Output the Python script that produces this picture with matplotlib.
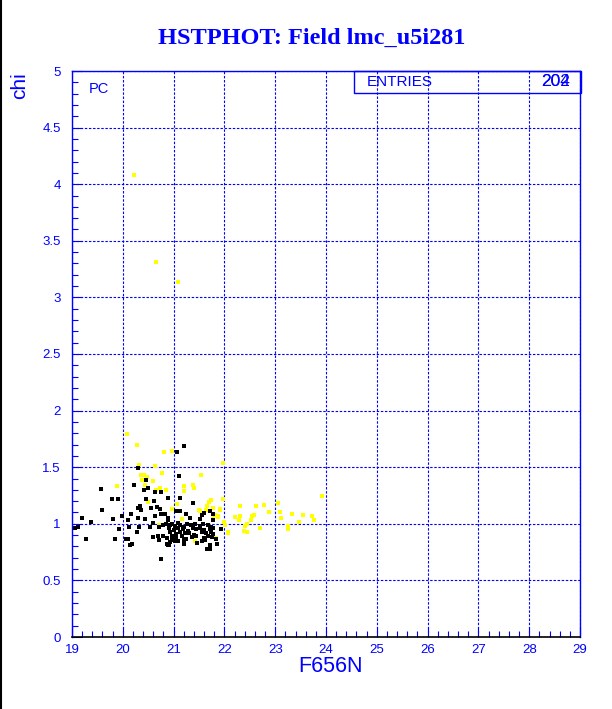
import matplotlib
matplotlib.use('Agg')
import matplotlib.pyplot as plt
from matplotlib.patches import Rectangle
from matplotlib.lines import Line2D
from matplotlib.ticker import MultipleLocator

# chi vs F656N magnitude, two star samples
yellow_mag = [20.22, 20.65, 21.09,
              20.085, 20.27, 20.32, 20.63, 20.81, 20.97, 20.78, 20.35, 20.42, 20.48, 20.37,
              20.59, 19.89, 20.44, 20.74, 20.65, 20.86, 20.50, 21.21, 21.21, 21.38, 21.41,
              21.54, 21.97, 21.97, 21.73, 21.69, 21.66, 21.78, 21.91, 21.50, 21.64, 21.06,
              20.97, 21.81, 21.88, 20.63, 21.16, 21.42, 21.84, 21.99, 22.07, 22.21, 22.31,
              22.31, 22.28, 22.44, 22.41, 22.39, 22.44, 22.54, 22.52, 22.59, 22.62, 22.78,
              22.70, 22.87, 23.06, 23.10, 23.12, 23.25, 23.25, 23.34, 23.46, 23.54, 23.73,
              23.76, 23.93, 20.71, 21.03, 21.51, 21.92, 21.88, 21.78, 22.02, 22.07]
yellow_chi = [4.08, 3.31, 3.14,
              1.79, 1.70, 1.52, 1.515, 1.63, 1.646, 1.446, 1.43, 1.43, 1.41, 1.39,
              1.38, 1.336, 1.34, 1.32, 1.295, 1.30, 1.19, 1.336, 1.29, 1.34, 1.32,
              1.43, 1.536, 1.217, 1.21, 1.19, 1.16, 1.14, 1.13, 1.12, 1.12, 1.176,
              1.134, 1.077, 1.07, 1.07, 1.04, 0.845, 0.878, 1.02, 0.93, 1.06, 1.07,
              1.16, 1.03, 1.00, 0.98, 0.94, 0.93, 1.07, 1.03, 1.08, 1.16, 1.17,
              0.96, 1.104, 1.18, 1.10, 1.05, 0.98, 0.95, 1.086, 1.015, 1.08, 1.07,
              1.03, 1.25, 0.99, 0.87, 1.11, 1.125, 1.06, 1.04, 0.99, 0.92]

black_mag = [20.30, 20.46, 20.23, 19.58, 20.50, 20.42, 20.63, 19.78, 19.90, 20.61, 20.33,
             20.29, 20.36, 20.56, 20.68, 20.74, 19.60, 20.63, 20.17, 20.11, 19.99, 19.81,
             20.30, 19.20, 19.37, 20.44, 20.71, 20.54, 20.59, 20.32, 20.13, 19.93, 19.05,
             19.11, 20.69, 20.59, 20.71, 20.18, 20.15, 20.27, 20.07, 20.11, 19.84, 19.27,
             20.75, 21.20, 21.07, 21.10, 20.76, 20.88, 21.13, 21.39, 20.75, 20.84, 20.93,
             20.89, 21.02, 20.45, 20.62,
             20.88, 20.88, 21.05, 21.13, 21.25, 21.33, 21.51, 21.55, 21.59, 21.72, 21.78,
             21.77,
             20.80, 20.86, 20.92, 20.96, 21.03, 21.08, 21.13, 21.20, 21.26, 21.34, 21.42,
             21.51, 21.58, 21.67, 21.73,
             20.90, 21.00, 21.09, 21.18, 21.29, 21.38, 21.45, 21.51, 21.60, 21.71, 21.78,
             21.93,
             20.92, 21.04, 21.12, 21.22, 21.31, 21.41, 21.55, 21.64, 21.73, 21.78,
             20.80, 20.87, 20.97, 21.05, 21.16, 21.24, 21.37, 21.45, 21.59, 21.68, 21.76,
             21.84,
             20.97, 21.08, 21.21, 21.55, 21.62,
             20.87, 20.91, 21.21, 21.46, 21.72, 21.85,
             21.65, 21.72]
black_chi = [1.49, 1.39, 1.345, 1.31, 1.32, 1.30, 1.28, 1.22, 1.22, 1.20, 1.16,
             1.14, 1.12, 1.14, 1.15, 1.13, 1.12, 1.07, 1.09, 1.03, 1.07, 1.045,
             1.05, 1.05, 1.02, 1.04, 0.97, 0.97, 1.01, 0.97, 0.97, 0.95, 0.96,
             0.97, 0.89, 0.88, 0.86, 0.82, 0.81, 0.93, 0.87, 0.87, 0.87, 0.87,
             0.685, 1.69, 1.63, 1.42, 1.28, 1.23, 1.23, 1.18, 1.09, 1.09, 0.84,
             0.81, 0.845, 1.22, 1.20,
             1.054, 1.03, 1.114, 1.114, 1.084, 1.048, 1.043, 1.078, 1.096, 1.114, 1.084,
             1.03,
             0.99, 1.00, 0.985, 0.995, 0.98, 1.005, 0.99, 0.975, 1.00, 0.985, 0.995,
             0.98, 1.00, 0.99, 0.975,
             0.96, 0.945, 0.965, 0.95, 0.94, 0.96, 0.95, 0.965, 0.945, 0.955, 0.96,
             0.95,
             0.925, 0.91, 0.93, 0.915, 0.92, 0.905, 0.93, 0.915, 0.925, 0.91,
             0.89, 0.875, 0.895, 0.88, 0.89, 0.87, 0.885, 0.895, 0.875, 0.89, 0.88,
             0.87,
             0.86, 0.85, 0.855, 0.845, 0.86,
             0.825, 0.81, 0.82, 0.83, 0.815, 0.82,
             0.78, 0.775]

entries = ['202', '204']

BLUE = '#0000ff'
W, H = 612, 709

fig = plt.figure(figsize=(W / 100, H / 100), dpi=100)
fig.patch.set_facecolor('white')
ax = fig.add_axes([72 / W, 1 - 637 / H, 508 / W, 566 / H])

ax.scatter(yellow_mag, yellow_chi, s=2.2 ** 2, marker='s', color='#ffff00', linewidths=0, zorder=3)
ax.scatter(black_mag, black_chi, s=2.2 ** 2, marker='s', color='black', linewidths=0, zorder=4)

ax.set_xlim(19, 29)
ax.set_ylim(0, 5)
ax.xaxis.set_major_locator(MultipleLocator(1))
ax.xaxis.set_minor_locator(MultipleLocator(0.2))
ax.yaxis.set_major_locator(MultipleLocator(0.5))
ax.yaxis.set_minor_locator(MultipleLocator(0.1))
ax.yaxis.set_major_formatter(plt.FuncFormatter(lambda v, p: '%g' % v))

ax.grid(True, which='major', color=BLUE, linestyle=(0, (2.2, 1.5)), linewidth=0.8)
ax.set_axisbelow(True)

ax.tick_params(which='both', direction='in', colors=BLUE, labelcolor=BLUE, width=0.8,
               top=False, right=False)
ax.tick_params(which='major', length=7)
ax.tick_params(which='minor', length=4)
ax.tick_params(axis='x', pad=5, labelsize=9.5)
ax.tick_params(axis='y', pad=8, labelsize=9.5)
for lab in ax.get_xticklabels() + ax.get_yticklabels():
    lab.set_family('Liberation Sans')

for side in ['left', 'top', 'right']:
    ax.spines[side].set_color(BLUE)
    ax.spines[side].set_linewidth(1)
ax.spines['bottom'].set_color('black')
ax.spines['bottom'].set_linewidth(1.2)

ax.text(0.033, 0.969, 'PC', transform=ax.transAxes, color=BLUE, fontsize=10.5,
        family='Liberation Sans', ha='left', va='center')

fig.text(312 / W, 1 - 38 / H, 'HSTPHOT: Field lmc_u5i281', color=BLUE, fontsize=17.5,
         family='Liberation Serif', weight='bold', ha='center', va='center')
fig.text(330 / W, 1 - 667 / H, 'F656N', color=BLUE, fontsize=15.5,
         family='Liberation Sans', ha='center', va='center')
fig.text(20 / W, 1 - 72 / H, 'chi', color=BLUE, fontsize=15, rotation=90,
         family='Liberation Sans', ha='center', va='top')

# stats box
fig.patches.append(Rectangle((354 / W, 1 - 93 / H), 227 / W, 22 / H, transform=fig.transFigure,
                             fill=False, edgecolor=BLUE, linewidth=1, zorder=5))
fig.text(367 / W, 1 - 82 / H, 'ENTRIES', color=BLUE, fontsize=11,
         family='Liberation Sans', ha='left', va='center')
for e in entries:
    fig.text(570 / W, 1 - 82 / H, e, color=BLUE, fontsize=12.5,
             family='Liberation Sans', ha='right', va='center')

# dark frame edge on the left
fig.lines.append(Line2D([1 / W, 1 / W], [0, 1], transform=fig.transFigure,
                        color='black', linewidth=1.5))

fig.savefig('out.png', dpi=100, facecolor='white')
